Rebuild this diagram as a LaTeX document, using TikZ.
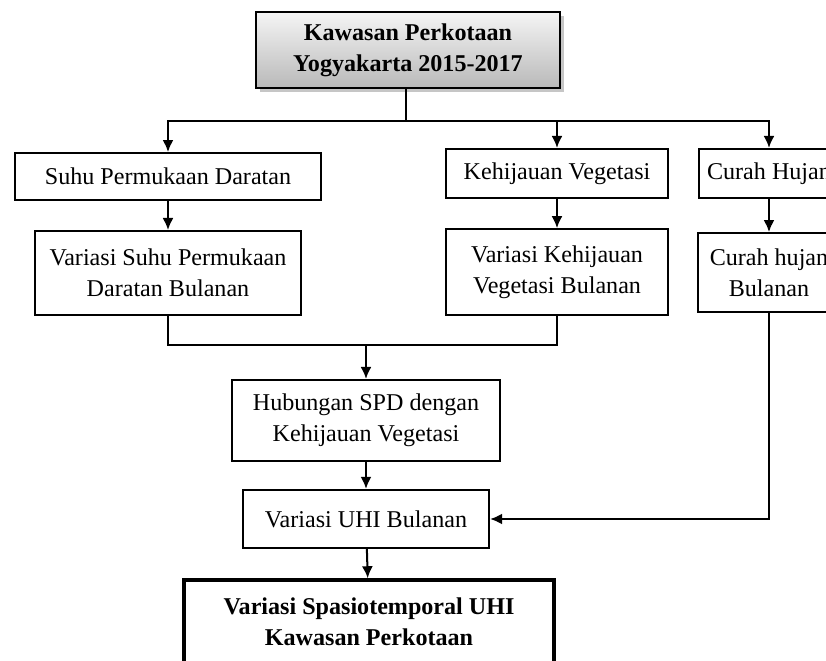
\documentclass[tikz,border=0pt]{standalone}
\usepackage{fontspec}
\setmainfont{Liberation Serif}
\usetikzlibrary{arrows.meta,shadows}

\begin{document}
\begin{tikzpicture}[
            x=0.0175cm, y=-0.0175cm,
            every node/.style={rectangle,draw,line width=1pt,align=center,inner sep=2pt,
                font=\fontsize{12}{15.5}\selectfont},
            judul/.style={top color=gray!8,bottom color=gray!55,
                drop shadow={opacity=0.45,shadow xshift=2pt,shadow yshift=-2pt},
                font=\fontsize{12}{15.5}\selectfont\bfseries},
            hasil/.style={line width=1.7pt,font=\fontsize{12}{15.5}\selectfont\bfseries},
            panah/.style={-{Latex[length=6pt,width=5.5pt]},line width=1pt},
            garis/.style={line width=1pt}
        ]
        \useasboundingbox (0,0) rectangle (826,661);
        \clip (0,0) rectangle (826,661);

        \node[judul,minimum width=5.32cm,minimum height=1.33cm] (kawasan) at (408,50) {Kawasan Perkotaan\\Yogyakarta 2015-2017};

        \node[minimum width=5.34cm,minimum height=0.82cm] (suhu) at (168,176.5)   {Suhu Permukaan Daratan};
        \node[minimum width=3.87cm,minimum height=0.86cm] (veg) at (557,173.5)    {Kehijauan Vegetasi};
        \node[minimum width=2.45cm,minimum height=0.86cm] (hujan) at (769,173.5)  {Curah Hujan};

        \node[minimum width=4.64cm,minimum height=1.47cm] (varsuhu) at (168,273)  {Variasi Suhu Permukaan\\Daratan Bulanan};
        \node[minimum width=3.90cm,minimum height=1.50cm] (varveg) at (557,272)   {Variasi Kehijauan\\Vegetasi Bulanan};
        \node[minimum width=2.49cm,minimum height=1.38cm] (varhujan) at (769,272.5) {Curah hujan\\Bulanan};

        \node[minimum width=4.69cm,minimum height=1.42cm] (hubungan) at (366,420.5) {Hubungan SPD dengan\\Kehijauan Vegetasi};
        \node[minimum width=4.31cm,minimum height=1.02cm] (uhi) at (366,519)       {Variasi UHI Bulanan};
        \node[hasil,minimum width=6.48cm,minimum height=1.47cm] (akhir) at (369,622) {Variasi Spasiotemporal UHI\\Kawasan Perkotaan};

        \coordinate (cabang) at (406,121);
        \coordinate (gabung) at (366,345);

        \draw[garis] (kawasan.south -| cabang) -- (cabang);
        \draw[panah] (cabang) -| (suhu);
        \draw[panah] (cabang) -| (veg);
        \draw[panah] (cabang) -| (hujan);

        \draw[panah] (suhu) -- (varsuhu);
        \draw[panah] (veg) -- (varveg);
        \draw[panah] (hujan) -- (varhujan);

        \draw[garis] (varsuhu) |- (gabung) -| (varveg);
        \draw[panah] (gabung) -- (hubungan);
        \draw[panah] (hubungan) -- (uhi);
        \draw[panah] (varhujan) |- (uhi);
        \draw[panah] (uhi) -- (akhir);
    \end{tikzpicture}
\end{document}
